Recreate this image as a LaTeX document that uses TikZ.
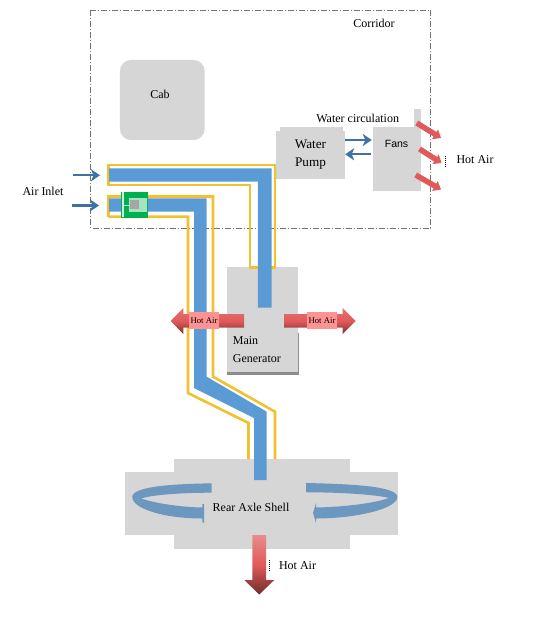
\documentclass[tikz,border=0pt]{standalone}
\usepackage{fontspec}
\setmainfont{Liberation Serif}
\newfontfamily\fansfont{Liberation Sans}
\usetikzlibrary{arrows.meta}
\definecolor{boxgrey}{HTML}{D6D6D6}
\definecolor{pipeblue}{HTML}{5B9BD5}
\definecolor{pipeyellow}{HTML}{F0C230}
\definecolor{arcblue}{HTML}{6C97BF}
\definecolor{flowblue}{HTML}{3F72A4}
\definecolor{fanred}{HTML}{E05A5A}
\definecolor{labelpink}{HTML}{FF9393}
\definecolor{valvegreen}{HTML}{00B050}
\begin{document}
\begin{tikzpicture}[
            x=1pt, y=-1pt,
            every node/.style={inner sep=0pt, align=center, font=\fontsize{12}{14}\selectfont},
            box/.style={fill=boxgrey},
            pipe/.style={fill=pipeblue},
            casing/.style={draw=pipeyellow, line width=2.6pt, miter limit=10},
            flow/.style={draw=flowblue, line width=2.4pt, -{Stealth[length=9pt, width=12pt, inset=2.5pt]}},
            fanflow/.style={draw=fanred, line width=5.5pt, -{Triangle[length=7pt, width=11pt]}},
            hotarrow/.style={top color=fanred!85!white, bottom color=fanred!55!black, middle color=fanred},
            hotlabel/.style={fill=labelpink, minimum width=30pt, minimum height=17.5pt, font=\fontsize{8.7}{10}\selectfont},
            swirl/.style={fill=arcblue},
            cursor/.style={draw=black, line width=.6pt, dash pattern=on 1pt off 1pt}
        ]
        \useasboundingbox (0,0) rectangle (539,617);
        \fill[white] (0,0) rectangle (539,617);

        \draw[draw=black!55, line width=.6pt, dash pattern=on 6pt off 2pt on 1pt off 2pt] (90.5,10) rectangle (430.7,228);
        \node[box, rounded corners=11pt, minimum width=84.7pt, minimum height=80pt] (cab) at (162.3,100) {};
        \node (cablabel) at (160,94) {Cab};
        \node (corridor) at (374,23.5) {Corridor};

        \fill[box] (280,127) rectangle (343,132);
        \node[box, minimum width=69pt, minimum height=48pt, font=\fontsize{13.2}{18}\selectfont] (pump) at (310.5,154.8) {Water\\Pump};
        \fill[box] (414,109) rectangle (421,128);
        \node[box, minimum width=48pt, minimum height=64pt] (fans) at (397,159) {};
        \node[font=\fontsize{10.5}{12}\fansfont] (fanslabel) at (396.5,144) {Fans};
        \node (circulation) at (357.7,118) {Water circulation};
        \draw[flow] ([yshift=14.8pt]pump.east) -- ([yshift=19pt,xshift=-1pt]fans.west);
        \draw[flow] ([yshift=4.7pt,xshift=-2pt]fans.west) -- ([yshift=.5pt]pump.east);

        \coordinate (fanout1) at (416.7,123);
        \coordinate (fanend1) at (441,138);
        \coordinate (fanout2) at (419.5,149);
        \coordinate (fanend2) at (441.5,163);
        \coordinate (fanout3) at (415.7,175);
        \coordinate (fanend3) at (441,189.5);
        \foreach \n in {1,2,3}
            \draw[fanflow] (fanout\n) -- (fanend\n);
        \draw[cursor] (445,156) -- (445,167);
        \node (fanhot) at (475,160) {Hot Air};

        \node (inlet) at (43,191.5) {Air Inlet};
        \coordinate (inlet1) at (72.5,175.3);
        \coordinate (inlet2) at (72,205.5);
        \draw[flow] (inlet1) -- (100,175.3);
        \draw[flow] (inlet2) -- (99,205.5);

        \node[box, minimum width=70.4pt, minimum height=107.6pt] (generator) at (262.5,320.5) {};
        \fill[black!45] (227.3,372) rectangle (298.5,374.5);
        \fill[black!45] (297.5,333) rectangle (298.5,374.5);
        \node[align=left, anchor=north west, font=\fontsize{12}{18}\selectfont] (generatorlabel) at (232.7,336) {Main\\Generator};

        \node[box, minimum width=175.7pt, minimum height=89.7pt] (axlemid) at (262.2,503.8) {};
        \node[box, minimum width=272.7pt, minimum height=63pt] (axlewide) at (261.4,503.5) {};
        \node (axle) at (251,507) {Rear Axle Shell};

        \draw[casing] (108.5,165) -- (275,165) -- (275,267.5) -- (250,267.5) -- (250,185) -- (108.5,185) -- cycle;
        \draw[casing] (108.5,216.8) -- (108.5,196.5) -- (213,196.5) -- (213,376.7) -- (275,411.7) -- (275,459);
        \draw[casing] (108.5,216.8) -- (188,216.8) -- (188,393) -- (248.5,423) -- (248.5,459);

        \fill[pipe] (109,168.3) -- (271.5,168.3) -- (271.5,307.5) -- (257.8,307.5) -- (257.8,181.7) -- (109,181.7) -- cycle;
        \fill[pipe] (109,198.3) -- (206.7,198.3) -- (206.7,376.7) -- (266.7,411.7) -- (266.7,480) -- (254,480) -- (254,418) -- (194,388) -- (194,211.7) -- (109,211.7) -- cycle;

        \node[fill=valvegreen, minimum width=27pt, minimum height=26pt] (valve) at (134.2,204.7) {};
        \fill[white!80!valvegreen] (121.5,192) rectangle (124,217.5);
        \fill[white!65!valvegreen] (129,198.5) rectangle (147,212);
        \fill[black!35] (130,200.5) rectangle (139,209.5);
        \draw[white!70!valvegreen, line width=.7pt] (124,205) -- (129,205);

        \path[hotarrow] (244,314) -- (183.3,314) -- (183.3,308) -- (170.7,321) -- (183.3,334) -- (183.3,327.7) -- (244,327.7) -- cycle;
        \path[hotarrow] (284,314) -- (342.7,314) -- (342.7,308) -- (355.7,321) -- (342.7,334) -- (342.7,327.7) -- (284,327.7) -- cycle;
        \node[hotlabel] (hotleft) at (204,320.3) {Hot Air};
        \node[hotlabel] (hotright) at (322,320.3) {Hot Air};

        \path[swirl] (211.7,483.3) .. controls (175,484) and (132.3,486) .. (132.3,497) .. controls (132.3,509) and (165,518.5) .. (202.3,518.5)
            -- (202.3,522.7) -- (204,522.7) -- (204,504) -- (202.3,504) -- (202.3,507.5) .. controls (178,507) and (155,503) .. (141,498.5) .. controls (150,495.5) and (175,492.7) .. (211.7,492.7) -- cycle;
        \path[swirl] (306,483) .. controls (350,484) and (397.3,486) .. (397.3,497) .. controls (397.3,509) and (355,518.5) .. (316,518.5)
            -- (316,523) -- (313,513) -- (316,503) -- (316,507.5) .. controls (345,507) and (375,503) .. (389,498) .. controls (378,495) and (345,492.3) .. (306,492.3) -- cycle;

        \path[top color=fanred!70!white, bottom color=fanred!50!black, middle color=fanred] (252.3,535) -- (266,535) -- (266,580) -- (274.3,580) -- (259.2,594.5) -- (244.3,580) -- (252.3,580) -- cycle;
        \draw[cursor] (269.3,560) -- (269.3,572);
        \node (bottomhot) at (297.5,565.5) {Hot Air};
\end{tikzpicture}
\end{document}
